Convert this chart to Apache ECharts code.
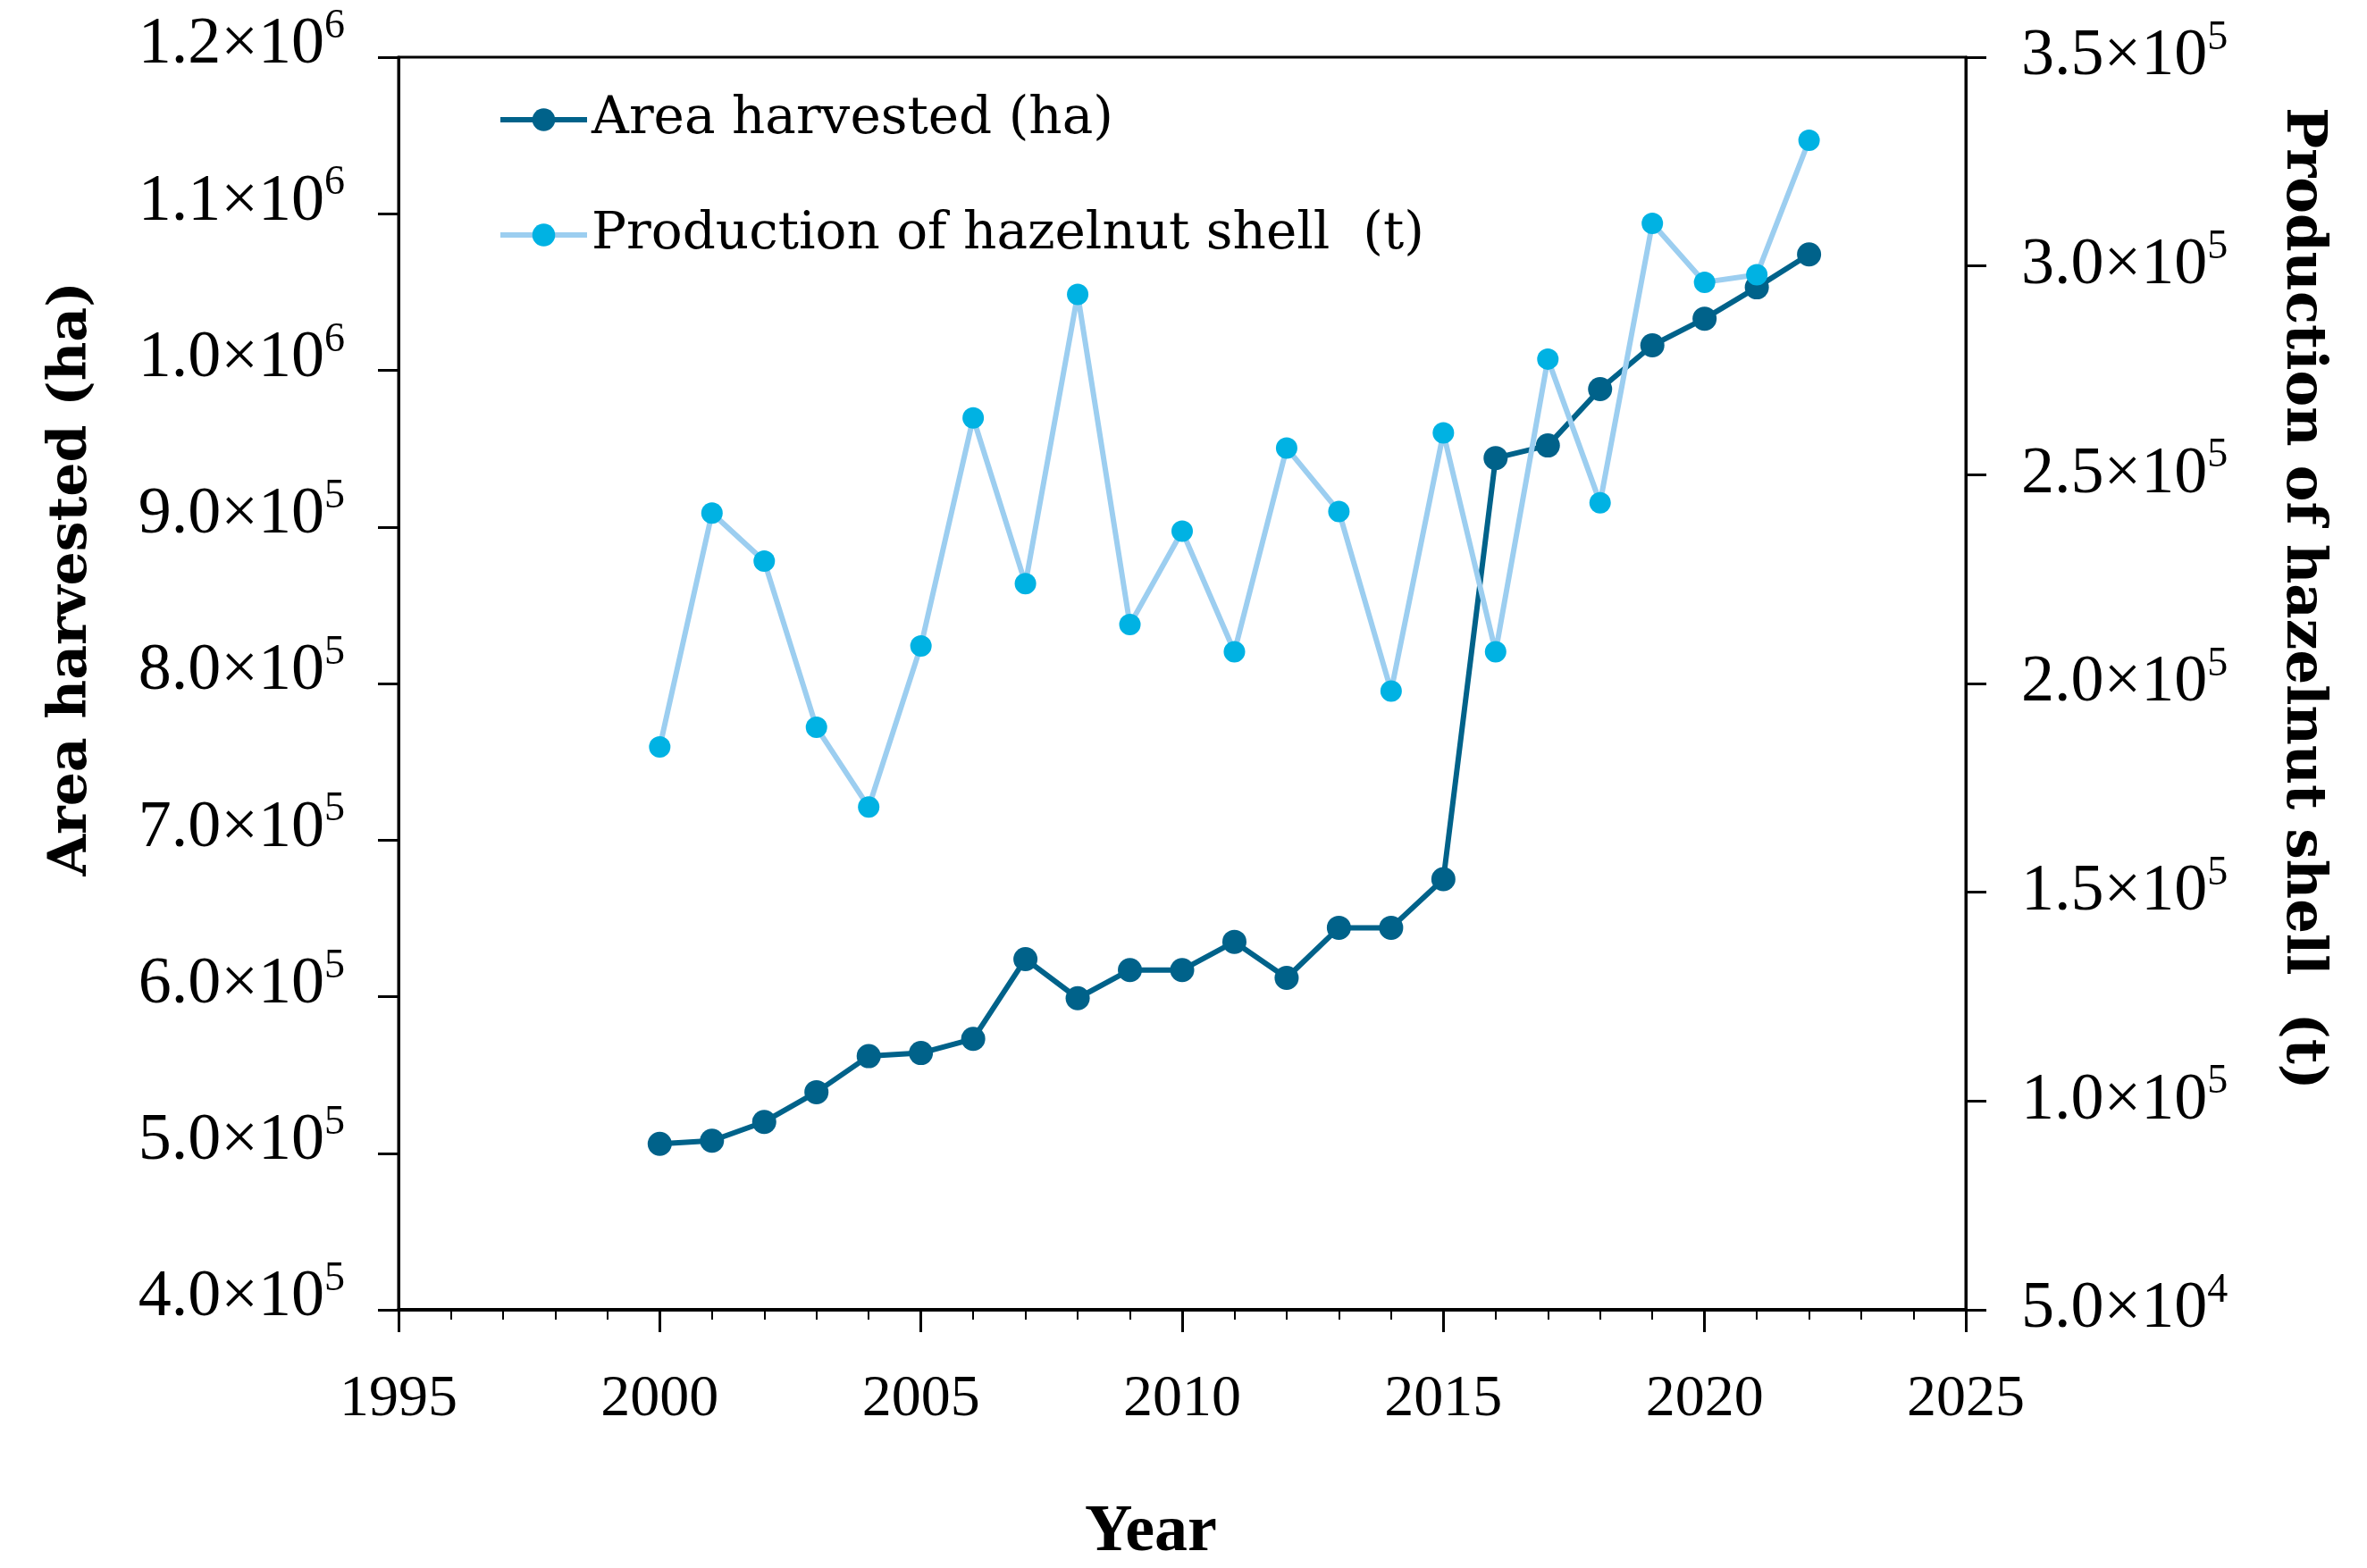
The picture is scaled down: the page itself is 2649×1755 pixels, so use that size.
<!DOCTYPE html>
<html>
<head>
<meta charset="utf-8">
<script src="https://cdn.jsdelivr.net/npm/echarts@6/dist/echarts.min.js"></script>
<style>
html,body{margin:0;padding:0;background:#ffffff;}
#chart{width:2649px;height:1755px;}
</style>
</head>
<body>
<div id="chart"></div>
<script>
// ---- data ----
const years = [2000,2001,2002,2003,2004,2005,2006,2007,2008,2009,2010,2011,2012,2013,2014,2015,2016,2017,2018,2019,2020,2021,2022];
const areaHarvested = [506000,508000,520000,539000,562000,564000,573000,624000,599000,617000,617000,635000,612000,644000,644000,675000,944000,952000,988000,1016000,1033000,1053000,1074000];
const shellProduction = [184800,240800,229300,189500,170400,209000,263600,223900,293200,214100,236500,207600,256400,241200,198200,260000,207600,277700,243300,310200,296100,297900,330100];
const seriesNames = ['Area harvested (ha)', 'Production of hazelnut shell  (t)'];
const xTitle = 'Year';
const leftTitle = 'Area harvested (ha)';
const rightTitle = 'Production of hazelnut shell  (t)';

function sci(v) {
  const e = Math.floor(Math.log10(v) + 1e-9);
  const m = v / Math.pow(10, e);
  return '{m|' + m.toFixed(1) + '×10}{s|' + e + '}';
}
const labelRich = {
  m: { fontFamily: 'Liberation Serif', fontSize: 74, color: '#000', lineHeight: 88 },
  s: { fontFamily: 'Liberation Serif', fontSize: 46, color: '#000', lineHeight: 46, verticalAlign: 'top' }
};

const chart = echarts.init(document.getElementById('chart'), null, { renderer: 'canvas' });
chart.setOption({
  backgroundColor: '#ffffff',
  animation: false,
  grid: {
    left: 446, right: 449, top: 64, bottom: 289,
    show: true, borderColor: '#000', borderWidth: 3, backgroundColor: 'transparent',
    containLabel: false, outerBoundsMode: 'none'
  },
  legend: {
    orient: 'vertical',
    left: 557, top: 105, padding: 0,
    itemWidth: 97, itemHeight: 32, itemGap: 71,
    data: seriesNames,
    lineStyle: { width: 6 },
    textStyle: { fontFamily: 'DejaVu Serif', fontSize: 58, color: '#000' }
  },
  xAxis: {
    type: 'value', min: 1995, max: 2025, interval: 5,
    axisLine: { show: true, lineStyle: { color: '#000', width: 4 } },
    axisTick: { show: true, inside: false, length: 25, lineStyle: { color: '#000', width: 3 } },
    minorTick: { show: true, splitNumber: 5, length: 11, lineStyle: { color: '#000', width: 2 } },
    splitLine: { show: false }, minorSplitLine: { show: false },
    axisLabel: { fontFamily: 'Liberation Serif', fontSize: 66, color: '#000', margin: 68, formatter: v => String(v) }
  },
  yAxis: [
    {
      type: 'value', position: 'left', min: 400000, max: 1200000, interval: 100000,
      axisLine: { show: true, lineStyle: { color: '#000', width: 3 } },
      axisTick: { show: true, inside: false, length: 23, lineStyle: { color: '#000', width: 3 } },
      splitLine: { show: false },
      axisLabel: { formatter: sci, rich: labelRich, margin: 60, padding: [0, 0, 26, 0] }
    },
    {
      type: 'value', position: 'right', min: 50000, max: 350000, interval: 50000,
      axisLine: { show: true, lineStyle: { color: '#000', width: 3 } },
      axisTick: { show: true, inside: false, length: 23, lineStyle: { color: '#000', width: 3 } },
      splitLine: { show: false },
      axisLabel: { formatter: sci, rich: labelRich, margin: 62 }
    }
  ],
  graphic: [
    { type: 'text', x: 80, y: 648, rotation: Math.PI / 2,
      style: { text: leftTitle, font: 'bold 60px "DejaVu Serif"', fill: '#000', textAlign: 'center', textVerticalAlign: 'middle' } },
    { type: 'text', x: 2576, y: 670, rotation: -Math.PI / 2,
      style: { text: rightTitle, font: 'bold 61px "DejaVu Serif"', fill: '#000', textAlign: 'center', textVerticalAlign: 'middle' } },
    { type: 'text', x: 1288, y: 1716,
      style: { text: xTitle, font: 'bold 74px "Liberation Serif"', fill: '#000', textAlign: 'center', textVerticalAlign: 'middle' } }
  ],
  series: [
    {
      name: seriesNames[0], type: 'line', yAxisIndex: 0,
      data: years.map((y, i) => [y, areaHarvested[i]]),
      symbol: 'circle', symbolSize: 27, showAllSymbol: true,
      lineStyle: { color: '#00628A', width: 6 },
      itemStyle: { color: '#00628A' }
    },
    {
      name: seriesNames[1], type: 'line', yAxisIndex: 1,
      data: years.map((y, i) => [y, shellProduction[i]]),
      symbol: 'circle', symbolSize: 24, showAllSymbol: true,
      lineStyle: { color: '#9CCEF0', width: 6 },
      itemStyle: { color: '#00B2E3' }
    }
  ]
});
</script>
</body>
</html>
